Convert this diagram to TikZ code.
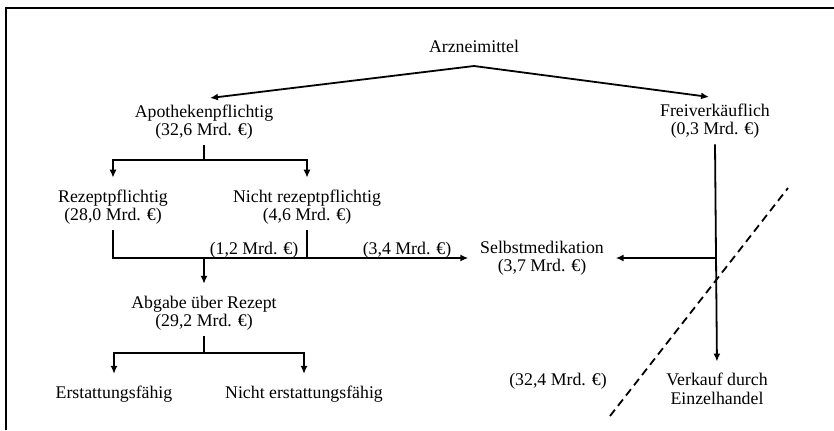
\documentclass[tikz,border=0pt]{standalone}
\usepackage{fontspec}
\setmainfont{Liberation Serif}
\usetikzlibrary{arrows.meta}

\tikzset{
    lbl/.style={align=center, inner sep=2.5pt, font=\fontsize{8.9}{9.2}\selectfont},
    arr/.style={-{Latex[length=4pt,width=3.5pt]}, shorten >=3pt}
}

\begin{document}
\begin{tikzpicture}[x=0.5pt, y=-0.5pt, line width=0.9pt]
        \useasboundingbox (0,0) rectangle (834,430);
        \draw (6,430) -- (6,8) -- (834,8);

        \node[lbl] (arznei)       at (474,46)  {Arzneimittel};
        \node[lbl] (apo)          at (204,122) {Apothekenpflichtig\\(32,6 Mrd. €)};
        \node[lbl] (frei)         at (715,121) {Freiverkäuflich\\(0,3 Mrd. €)};
        \node[lbl] (rezept)       at (113,207) {Rezeptpflichtig\\(28,0 Mrd. €)};
        \node[lbl] (nichtrezept)  at (307,207) {Nicht rezeptpflichtig\\(4,6 Mrd. €)};
        \node[lbl] (selbst)       at (542,258) {Selbstmedikation\\(3,7 Mrd. €)};
        \node[lbl] (abgabe)       at (204,313) {Abgabe über Rezept\\(29,2 Mrd. €)};
        \node[lbl] (erstatt)      at (114,394) {Erstattungsfähig};
        \node[lbl] (nichterstatt) at (304,394) {Nicht erstattungsfähig};
        \node[lbl] (einzel)       at (717,389) {Verkauf durch\\Einzelhandel};
        \node[lbl] (l12)          at (254,250) {(1,2 Mrd. €)};
        \node[lbl] (l34)          at (407,250) {(3,4 Mrd. €)};
        \node[lbl] (l324)         at (558,381) {(32,4 Mrd. €)};

        \coordinate (top) at (474,66);
        \coordinate (s1)  at (204,160);
        \coordinate (s2)  at (204,353);

        \draw[arr] (top) -- (apo.north);
        \draw[arr] (top) -- (frei.north);
        \draw (apo.south) -- (s1);
        \draw[arr] (s1) -| (rezept.north);
        \draw[arr] (s1) -| (nichtrezept.north);
        % Rezept/Nicht rezept -> Selbstmedikation, Abgabe
        \draw[arr] (rezept.south) |- (selbst.west);
        \draw (nichtrezept.south) -- (nichtrezept.south |- selbst.west);
        \draw[arr] (abgabe.north |- selbst.west) -- (abgabe.north);
        \draw (abgabe.south) -- (s2);
        \draw[arr] (s2) -| (erstatt.north);
        \draw[arr] (s2) -| (nichterstatt.north);
        % Freiverkaeuflich
        \draw[arr] (frei.south) -- (einzel.north);
        \draw[arr] (frei.south |- selbst.east) -- (selbst.east);

        \draw[dashed, dash pattern=on 4pt off 2.5pt] (610,416) -- (788,188);
    \end{tikzpicture}
\end{document}
